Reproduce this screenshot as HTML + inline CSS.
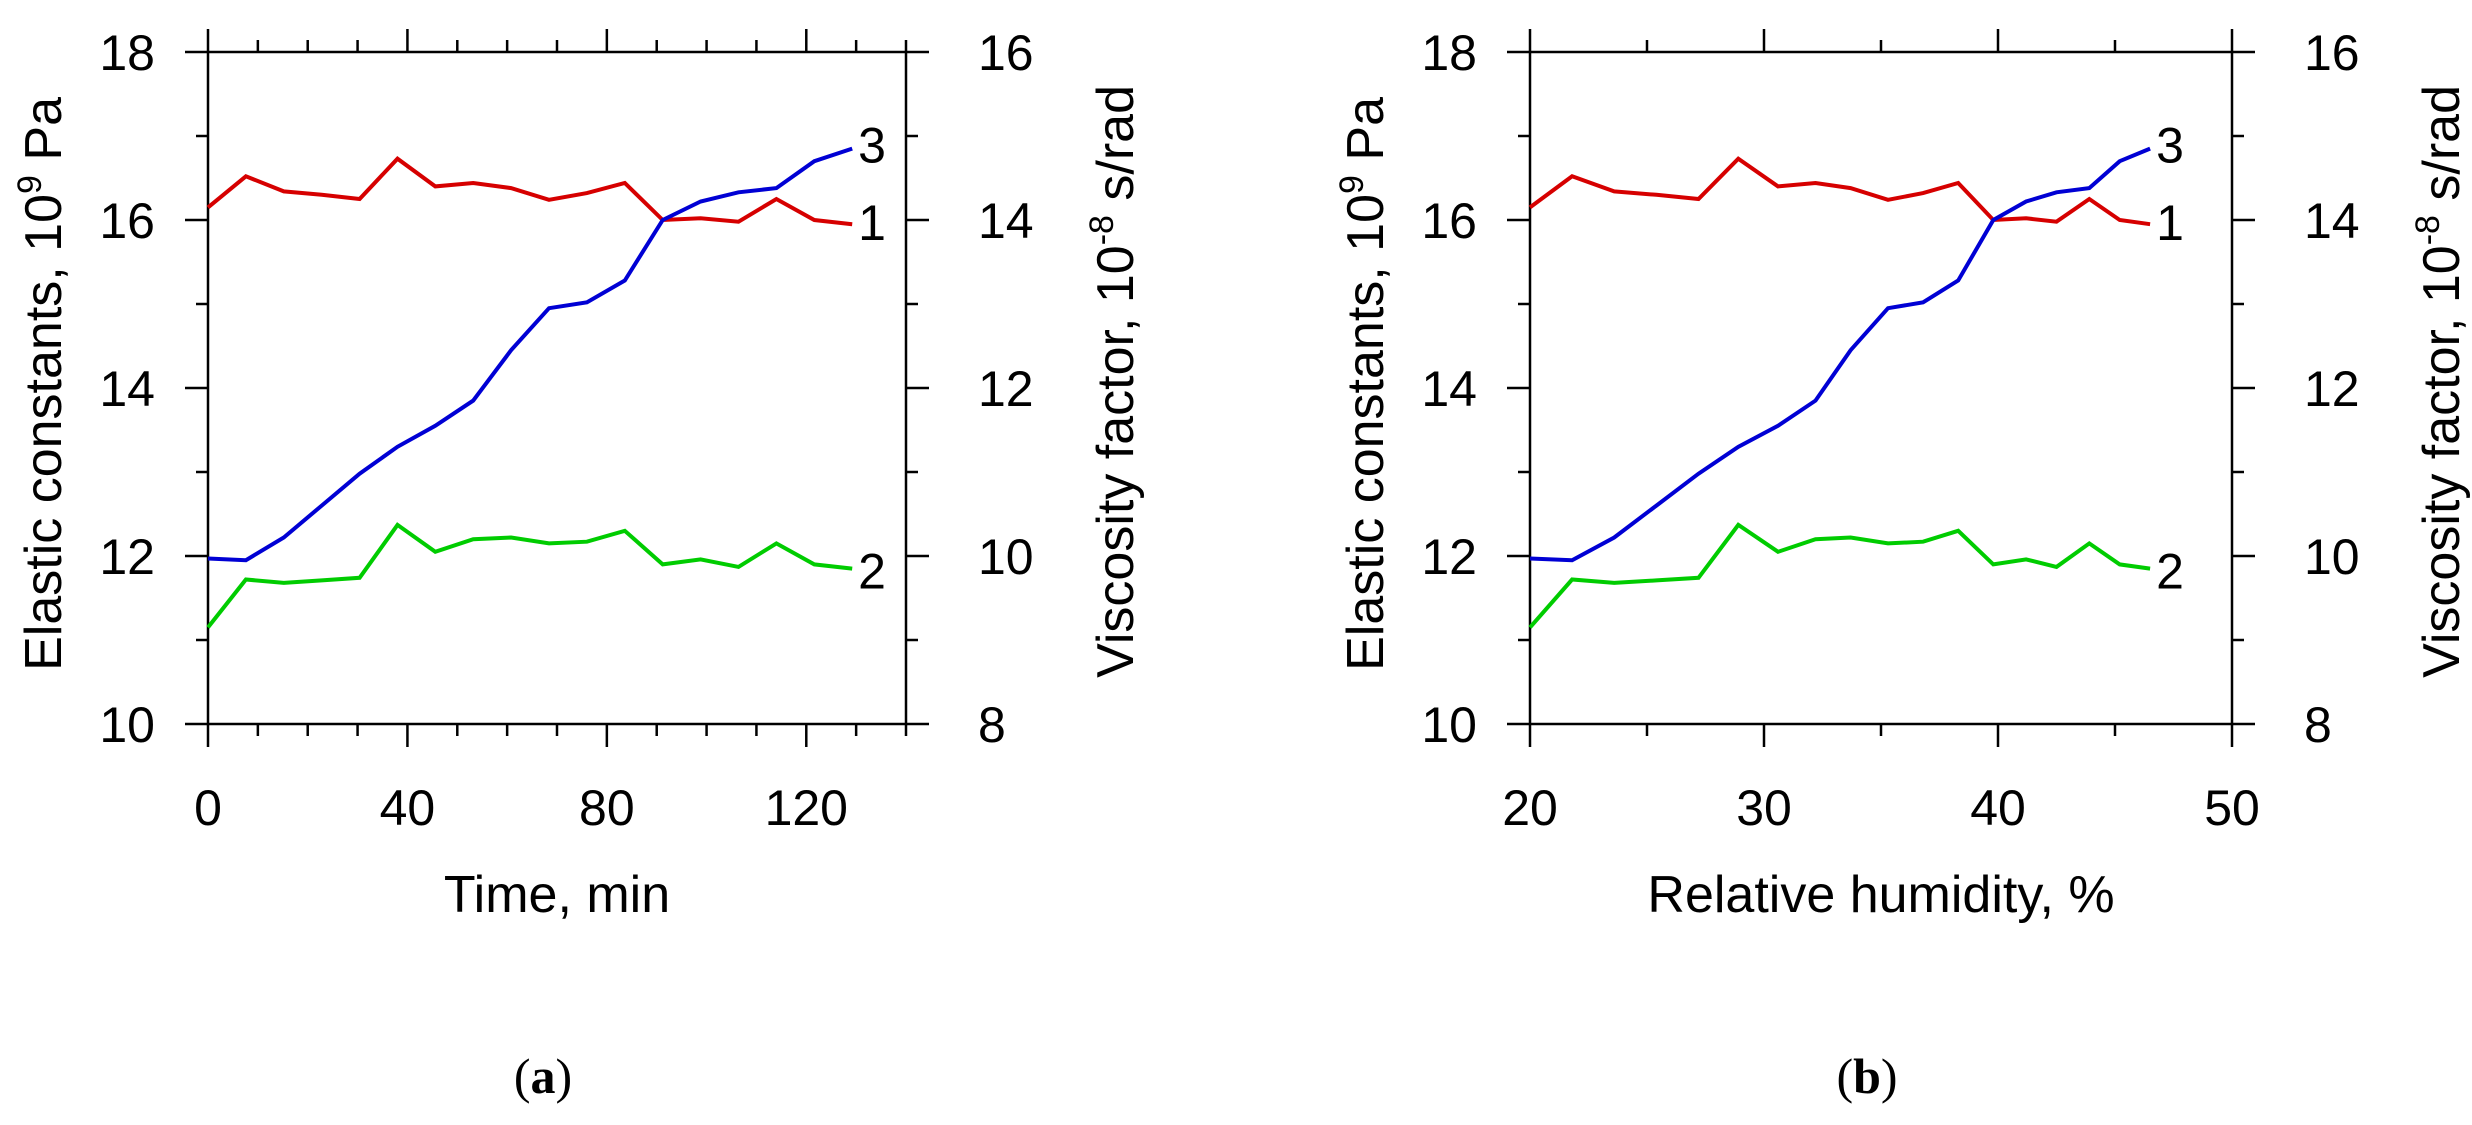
<!DOCTYPE html>
<html><head><meta charset="utf-8"><style>
html,body{margin:0;padding:0;background:#fff;}
svg{display:block;font-family:"Liberation Sans",Arial,sans-serif;}
</style></head><body>
<svg id="fig" width="2472" height="1125" viewBox="0 0 2472 1125" xmlns="http://www.w3.org/2000/svg">
<rect width="2472" height="1125" fill="#fff"/>
</svg>
<script>
// Data
const timeMin = [0,7.6,15.2,22.8,30.4,38,45.6,53.2,60.8,68.4,76,83.6,91.2,98.8,106.4,114,121.6,129.2];
const humidity = [20.0,21.8,23.6,25.4,27.2,28.9,30.6,32.2,33.7,35.3,36.8,38.3,39.8,41.2,42.5,43.9,45.2,46.5];
const series1Elastic = [16.15,16.52,16.34,16.30,16.25,16.73,16.40,16.44,16.38,16.24,16.32,16.44,16.0,16.02,15.98,16.25,16.0,15.95];
const series2Elastic = [11.15,11.72,11.68,11.71,11.74,12.37,12.05,12.2,12.22,12.15,12.17,12.3,11.9,11.96,11.87,12.15,11.9,11.85];
const series3Viscosity = [9.97,9.95,10.22,10.6,10.98,11.3,11.55,11.85,12.45,12.95,13.02,13.28,14.0,14.22,14.33,14.38,14.7,14.85];
const leftTicks = [10,12,14,16,18];
const rightTicks = [8,10,12,14,16];
const timeTicks = [0,40,80,120];
const humTicks = [20,30,40,50];

const NS = "http://www.w3.org/2000/svg";
const svg = document.getElementById('fig');
function el(tag, attrs, parent){
  const e = document.createElementNS(NS, tag);
  for (const k in attrs) e.setAttribute(k, attrs[k]);
  (parent||svg).appendChild(e);
  return e;
}
const Y0 = 724, Y1 = 52;
function yL(v){ return Y0 - (v-10)/(18-10)*(Y0-Y1); }
function yR(v){ return Y0 - (v-8)/(16-8)*(Y0-Y1); }

function drawChart(c){
  const g = el('g', {});
  
  
  const xs = v => c.x0 + (v-c.xmin)/(c.xmax-c.xmin)*(c.x1-c.x0);
  const ax = {stroke:'#000','stroke-width':2.5,fill:'none'};
  // frame
  const frame = el('rect', Object.assign({x:c.x0,y:Y1,width:c.x1-c.x0,height:Y0-Y1}, ax), g);
  
  
  // x ticks
  for (let v=c.xmin; v<=c.xmax+1e-9; v+=c.minor){
    const isMajor = Math.abs(((v-c.xmin)/c.major) - Math.round((v-c.xmin)/c.major))<1e-6;
    const L = isMajor?23:12;
    el('line', Object.assign({x1:xs(v),x2:xs(v),y1:Y0,y2:Y0+L}, ax), g);
    el('line', Object.assign({x1:xs(v),x2:xs(v),y1:Y1,y2:Y1-L}, ax), g);
  }
  c.xticks.forEach(v=>{
    const t = el('text', {x:xs(v), y:825, 'font-size':50, 'text-anchor':'middle'}, g);
    t.textContent = v;
    
    
  });
  // y ticks
  for (let v=10; v<=18; v++){
    const L = (v%2===0)?23:12;
    el('line', Object.assign({x1:c.x0-L,x2:c.x0,y1:yL(v),y2:yL(v)}, ax), g);
    el('line', Object.assign({x1:c.x1,x2:c.x1+L,y1:yL(v),y2:yL(v)}, ax), g);
  }
  leftTicks.forEach(v=>{
    const t = el('text', {x:c.x0-53, y:yL(v)+18, 'font-size':50, 'text-anchor':'end'}, g);
    t.textContent = v;
    
    
  });
  rightTicks.forEach(v=>{
    const t = el('text', {x:c.x1+72, y:yR(v)+18, 'font-size':50, 'text-anchor':'start'}, g);
    t.textContent = v;
    
    
  });
  // axis titles
  const xt = el('text', {x:(c.x0+c.x1)/2, y:912, 'font-size':52, 'text-anchor':'middle'}, g);
  xt.textContent = c.xtitle;
  
  
  const lt = el('text', {x:0,y:0,'font-size':52,'text-anchor':'end',transform:`translate(${c.x0-147},97) rotate(-90)`}, g);
  lt.innerHTML = 'Elastic constants, 10<tspan dy="-20" font-size="34">9</tspan><tspan dy="20"> Pa</tspan>';
  
  
  const rt = el('text', {x:0,y:0,'font-size':52,'text-anchor':'end',transform:`translate(${c.x1+227},85) rotate(-90)`}, g);
  rt.innerHTML = 'Viscosity factor, 10<tspan dy="-20" font-size="34">-8</tspan><tspan dy="20"> s/rad</tspan>';
  
  
  // series
  const lines = [
    {vals:series1Elastic, fy:yL, color:'#d60000', name:'series-1-line', label:'1', dy:16},
    {vals:series2Elastic, fy:yL, color:'#00cc00', name:'series-2-line', label:'2', dy:20},
    {vals:series3Viscosity, fy:yR, color:'#0000d4', name:'series-3-line', label:'3', dy:14}
  ];
  lines.forEach(s=>{
    const pts = c.xvals.map((x,i)=>xs(x).toFixed(1)+','+s.fy(s.vals[i]).toFixed(1)).join(' ');
    const p = el('polyline', {points:pts, fill:'none', stroke:s.color, 'stroke-width':4, 'stroke-linejoin':'miter'}, g);
    
    
    const n = c.xvals.length-1;
    const t = el('text', {x:xs(c.xvals[n])+6, y:s.fy(s.vals[n])+s.dy, 'font-size':50}, g);
    t.textContent = s.label;
    
    
  });
  const cap = el('text', {x:(c.x0+c.x1)/2-14, y:1093, 'font-size':50, 'text-anchor':'middle', 'font-family':'"Liberation Serif",serif'}, g);
  cap.innerHTML = '(<tspan font-weight="bold">' + c.cap + '</tspan>)';
  
  
}
drawChart({name:'chart-a-time', x0:208, x1:906, xmin:0, xmax:140, minor:10, major:40, xticks:timeTicks, xvals:timeMin, xtitle:'Time, min', cap:'a'});
drawChart({name:'chart-b-humidity', x0:1530, x1:2232, xmin:20, xmax:50, minor:5, major:10, xticks:humTicks, xvals:humidity, xtitle:'Relative humidity, %', cap:'b'});
</script>
</body></html>
